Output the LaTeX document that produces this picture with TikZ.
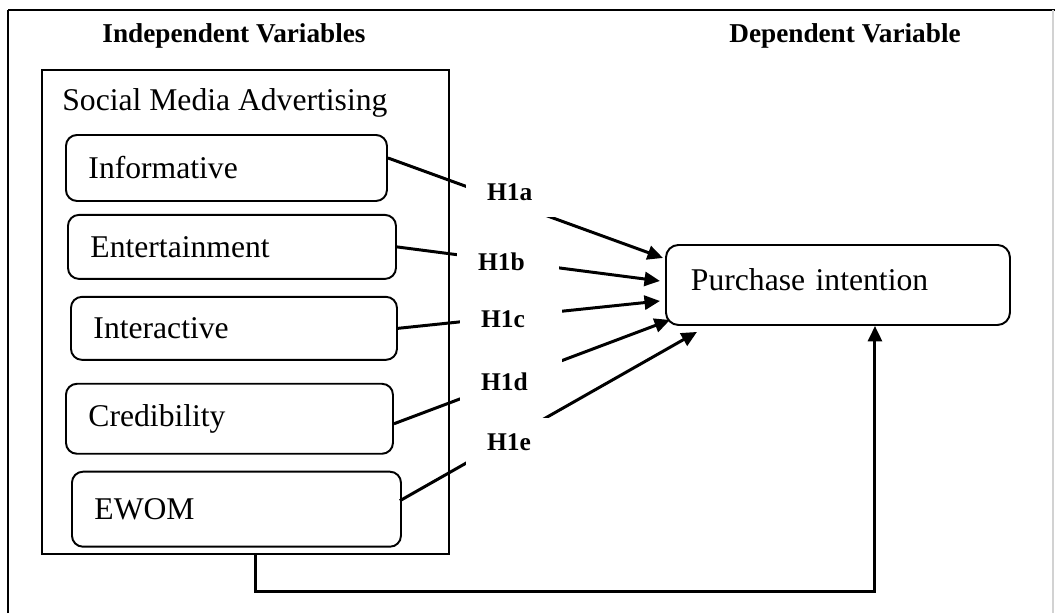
\documentclass[tikz,border=0pt]{standalone}
\usepackage{fontspec}
\setmainfont{Liberation Serif}
\usepackage{tikz}
\usetikzlibrary{arrows.meta, positioning}
\tikzset{
  factor/.style={
    rectangle, rounded corners=0.22cm, draw=black, line width=1.1pt,
    align=left, inner xsep=0.45cm, text width=5.55cm,
    font=\fontsize{18}{21}\selectfont
  },
  heading/.style={
    draw=none, font=\fontsize{15.5}{18}\selectfont\bfseries
  },
  hyp/.style={
    fill=white, inner xsep=0.42cm, text width=1.2cm, align=left,
    minimum height=1cm, font=\fontsize{14.5}{16}\selectfont\bfseries
  },
  arrow/.style={
    -{Triangle[length=0.31cm,width=0.28cm]}, line width=1.7pt
  }
}

\begin{document}
\begin{tikzpicture}[node distance=0.3cm]
\useasboundingbox (0,0) rectangle (21.1,-12.26);

% Rahmen
\draw[line width=1.1pt] (0.16,-12.26) -- (0.16,-0.2);
\draw[line width=1.7pt] (0.16,-0.2) -- (21.1,-0.2);
\draw[gray!35, line width=0.6pt] (21.06,-0.2) -- (21.06,-12.26);

% Ueberschriften
\node[heading] (indep) at (4.68,-0.72) {Independent Variables};
\node[heading] (dep) at (16.9,-0.72) {Dependent Variable};

% Unabhaengige Variablen
\node[draw=black, line width=1.1pt, minimum width=8.14cm, minimum height=9.68cm, anchor=north west] (sma) at (0.82,-1.38) {};
\node[inner sep=0, anchor=base west, font=\fontsize{18}{21}\selectfont] (smatitle) at (1.24,-2.2) {Social Media Advertising};

\node[factor, text width=5.52cm, minimum height=1.32cm, anchor=north west] (inf) at (1.3,-2.68) {Informative};
\node[factor, text width=5.66cm, minimum height=1.28cm, below=0.24cm of inf.south west, anchor=north west, xshift=0.04cm] (ent) {Entertainment};
\node[factor, text width=5.62cm, minimum height=1.26cm, below=0.32cm of ent.south west, anchor=north west, xshift=0.06cm] (intr) {Interactive};
\node[factor, text width=5.64cm, minimum height=1.4cm, below=0.44cm of intr.south west, anchor=north west, xshift=-0.1cm] (cred) {Credibility};
\node[factor, text width=5.68cm, minimum height=1.5cm, below=0.32cm of cred.south west, anchor=north west, xshift=0.12cm] (ewom) {EWOM};

% Abhaengige Variable
\node[factor, rounded corners=0.25cm, text width=5.88cm, inner xsep=0.5cm, text depth=0.2cm, minimum height=1.6cm, anchor=north west] (pi) at (13.3,-4.88) {Purchase intention};

% Hypothesen
\draw[arrow] ([yshift=0.2cm]inf.east) -- ([shift={(-0.04,0.54)}]pi.west);
\draw[arrow] (ent.east) -- ([shift={(-0.1,0.08)}]pi.west);
\draw[arrow] (intr.east) -- ([shift={(-0.1,-0.32)}]pi.west);
\draw[arrow] ([yshift=-0.1cm]cred.east) -- ([shift={(0.1,0.12)}]pi.south west);
\draw[arrow] ([shift={(-0.04,0.17)}]ewom.east) -- ([shift={(0.64,-0.12)}]pi.south west);

\node[hyp] (h1a) at (10.34,-3.84) {H1a};
\node[hyp] (h1b) at (10.16,-5.24) {H1b};
\node[hyp] (h1c) at (10.22,-6.39) {H1c};
\node[hyp] (h1d) at (10.22,-7.64) {H1d};
\node[hyp] (h1e) at (10.34,-8.85) {H1e};

\draw[arrow] ([xshift=0.21cm]sma.south) -- ++(0,-0.74) -| ([xshift=0.74cm]pi.south);

\end{tikzpicture}
\end{document}
